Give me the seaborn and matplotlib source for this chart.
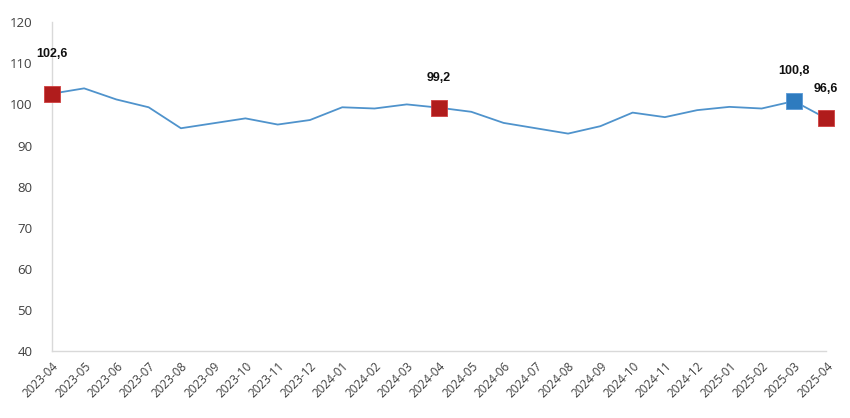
import pandas as pd
import matplotlib
matplotlib.use("Agg")
import matplotlib.pyplot as plt
import seaborn as sns


months = ["2023-04", "2023-05", "2023-06", "2023-07", "2023-08", "2023-09",
          "2023-10", "2023-11", "2023-12", "2024-01", "2024-02", "2024-03",
          "2024-04", "2024-05", "2024-06", "2024-07", "2024-08", "2024-09",
          "2024-10", "2024-11", "2024-12", "2025-01", "2025-02", "2025-03",
          "2025-04"]
values = [102.6, 103.9, 101.2, 99.3, 94.2, 95.4, 96.6, 95.1, 96.2, 99.3,
          99.0, 100.0, 99.2, 98.2, 95.5, 94.2, 92.9, 94.7, 98.0, 96.9,
          98.6, 99.4, 99.0, 100.8, 96.6]

# highlighted points
red_months = ["2023-04", "2024-04", "2025-04"]
blue_months = ["2025-03"]
label_months = ["2023-04", "2024-04", "2025-03", "2025-04"]
yticks = [40, 50, 60, 70, 80, 90, 100, 110, 120]

data = pd.DataFrame({"month": months, "value": values})
data["pos"] = range(len(data))

sns.set_style("white")
plt.rcParams['font.family'] = ['Open Sans', 'DejaVu Sans']

fig = plt.figure(figsize=(8.5, 4.18), dpi=100)
ax = fig.add_axes([0.061, 0.160, 0.911, 0.787])

sns.lineplot(data=data, x="pos", y="value", color="#4f93cc", linewidth=1.3, ax=ax)

red = data[data["month"].isin(red_months)]
blue = data[data["month"].isin(blue_months)]
sns.scatterplot(data=red, x="pos", y="value", marker="s", s=120, color="#b01c1c",
                edgecolor="#d04040", linewidth=0.6, zorder=5, clip_on=False, ax=ax)
sns.scatterplot(data=blue, x="pos", y="value", marker="s", s=120, color="#2e7bbf",
                edgecolor="#5a9ad8", linewidth=0.6, zorder=5, clip_on=False, ax=ax)

for _, row in data[data["month"].isin(label_months)].iterrows():
    off = 24 if row["pos"] == 0 else 17
    ax.annotate(f"{row['value']:.1f}".replace(".", ","), (row["pos"], row["value"]),
                xytext=(0, off), textcoords="offset points", ha="center", va="bottom",
                fontsize=9, fontweight="bold", color="#111111",
                family=["Liberation Sans", "DejaVu Sans"])

ax.set_xlim(0, len(months) - 1)
ax.set_ylim(40, 120)
ax.set_yticks(yticks)
ax.set_xticks(data["pos"])
ax.set_xticklabels(months, rotation=45, ha="right", rotation_mode="anchor")
ax.tick_params(axis="x", labelsize=8.5, colors="#404040", length=0, pad=6)
ax.tick_params(axis="y", labelsize=9.5, colors="#404040", length=0, pad=14)
ax.set_xlabel("")
ax.set_ylabel("")

for s in ["top", "right"]:
    ax.spines[s].set_visible(False)
for s in ["left", "bottom"]:
    ax.spines[s].set_color("#d9d9d9")
    ax.spines[s].set_linewidth(1)

fig.savefig("out.png", dpi=100)
